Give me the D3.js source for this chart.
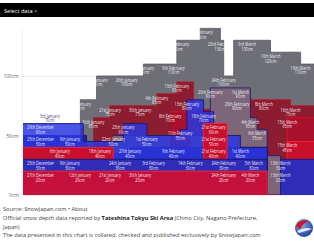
<!DOCTYPE html>
<html><head><meta charset="utf-8">
<script src="https://cdn.jsdelivr.net/npm/d3@7"></script>
<style>
html,body{margin:0;padding:0;background:#fff;}
svg{display:block;font-family:"Open Sans",sans-serif;}
</style></head><body>
<svg id="c" width="314" height="245"></svg>
<script>
// ---- data (each season: [date, snow depth cm, label shown?]); null depth = no report ----
const yTicks = [0, 50, 100];
const seasonGray = [["2001-01-03",70],["2001-01-04",null,0],["2001-01-12",80],["2001-01-17",100],["2001-01-26",100],["2001-01-31",110],["2001-02-09",110],["2001-02-10",130],["2001-02-17",140],["2001-02-23",130],["2001-02-24",100],["2001-02-27",130,0],["2001-03-03",130],["2001-03-10",120],["2001-03-19",110]];
const seasonMaroon = [["2001-01-16",65],["2001-01-21",75],["2001-01-30",75],["2001-02-04",85],["2001-02-10",95],["2001-02-15",72,0],["2001-02-28",80],["2001-03-08",80],["2001-03-16",75]];
const seasonMauve = [["2001-01-22",50],["2001-02-20",90],["2001-03-01",90],["2001-03-04",65],["2001-03-06",55],["2001-03-09",33,0],["2001-03-13",20]];
const seasonRed2 = [["2001-02-08",70],["2001-02-14",0,0],["2001-03-15",65]];
const seasonNavy = [["2000-12-25",50],["2001-01-09",50],["2001-01-14",35,0],["2001-01-27",40],["2001-02-09",40],["2001-02-21",40],["2001-03-09",0,0]];
const seasonBlue = [["2000-12-26",60,0],["2000-12-29",60],["2001-01-13",45,0],["2001-01-25",60],["2001-02-01",50],["2001-02-11",55],["2001-02-13",80],["2001-02-18",70],["2001-02-21",50],["2001-03-01",40],["2001-03-09",0,0]];
const seasonCrimson = [["2000-12-26",40,0],["2001-01-06",40],["2001-01-18",40],["2001-01-22",25,0],["2001-02-18",60,0],["2001-02-21",60],["2001-02-25",0,0],["2001-03-15",45]];
const seasonBlue30 = [["2000-12-25",30],["2001-01-09",30],["2001-01-24",30],["2001-02-03",30],["2001-02-14",30],["2001-02-24",30],["2001-03-05",30],["2001-03-09",0,0],["2001-03-13",30]];
const seasonRed20 = [["2000-12-26",20,0],["2000-12-27",20],["2001-01-12",20],["2001-01-21",20],["2001-01-30",20],["2001-02-24",20],["2001-03-04",20],["2001-03-09",0,0]];

// ---- styles ----
const seasons = [
  {data: seasonGray,    fill:"#6e6e77", stroke:"#5d5d66", op:1},
  {data: seasonMaroon,  fill:"#8c1c30", stroke:"#c0142c", op:1},
  {data: seasonMauve,   fill:"#7d667a", stroke:"#1f1f7a", op:1},
  {data: seasonRed2,    fill:"#a8102c", stroke:"#e0102a", op:1},
  {data: seasonNavy,    fill:"#27208e", stroke:"#15155e", op:1},
  {data: seasonBlue,    fill:"#2a36e0", stroke:"#18187a", op:0.85},
  {data: seasonCrimson, fill:"#c8102e", stroke:"#ff1f2f", op:1},
  {data: seasonBlue30,  fill:"#2f2cb8", stroke:"#16166a", op:1},
  {data: seasonRed20,   fill:"#c4103a", stroke:"#ff2a2a", op:1}
];

const svg = d3.select("#c");
const W = 314, L = 23, T = 28.4, B = 195;
const parse = d3.timeParse("%Y-%m-%d");
const x = d3.scaleTime().domain([new Date(2000,11,26), new Date(2001,2,23)]).range([L, W]);
const y = d3.scaleLinear().domain([0,140]).range([B, T]);
const fmtMonth = d3.timeFormat("%B");
function ordinal(n){const s=["th","st","nd","rd"],v=n%100;return n+(s[(v-20)%10]||s[v]||s[0]);}

// header
svg.append("rect").attr("x",0).attr("y",3).attr("width",W).attr("height",14).attr("fill","#000");
svg.append("text").attr("x",4).attr("y",12.5).attr("fill","#fff").attr("font-size",5.6).text("Select data >");

// grid + y axis
const ax = svg.append("g").attr("transform",`translate(${L-1},0)`)
  .call(d3.axisLeft(y).tickValues(yTicks).tickFormat(d=>d+"cm").tickSize(-(W-L+1)).tickPadding(3));
ax.select(".domain").remove();
ax.selectAll("line").attr("stroke","#e6e6e6").attr("stroke-width",0.8);
ax.selectAll("text").attr("fill","#666").attr("font-size",5).attr("font-family","'Open Sans',sans-serif");
svg.append("line").attr("x1",L-1).attr("x2",L-1).attr("y1",T).attr("y2",B).attr("stroke","#ececec").attr("stroke-width",0.8);

svg.append("defs").append("clipPath").attr("id","clip").append("rect")
  .attr("x",L).attr("y",T-2).attr("width",W-L).attr("height",B-T+2);

const area = d3.area().curve(d3.curveStepAfter).defined(d=>d.v!==null).x(d=>x(d.date)).y0(y(0)).y1(d=>y(d.v));
const line = d3.line().curve(d3.curveStepAfter).defined(d=>d.v!==null).x(d=>x(d.date)).y(d=>y(d.v));
const plot = svg.append("g").attr("clip-path","url(#clip)");
const endDate = new Date(2001,2,26);

const allPts = [];
seasons.forEach(s=>{
  const pts = s.data.map(d=>({date:parse(d[0]), v:d[1], show:d[2]!==0}));
  const last = pts[pts.length-1];
  const ext = last.v>0 ? pts.concat([{date:endDate, v:last.v}]) : pts;
  plot.append("path").datum(ext).attr("d",area).attr("fill",s.fill).attr("fill-opacity",s.op);
  plot.append("path").datum(ext).attr("d",line).attr("fill","none").attr("stroke",s.stroke).attr("stroke-width",0.9);
  pts.forEach((p,i)=>{
    if(p.show && p.v>0){
      const nxt = pts[i+1];
      p.isolated = !!(nxt && nxt.v===null);
      allPts.push(p);
    }
  });
});

// data labels
const lab = svg.append("g");
allPts.forEach(p=>{
  const g = lab.append("g");
  const t = g.append("text").attr("text-anchor","middle").attr("font-size",4.7)
    .attr("fill", p.isolated ? "#23236a" : "#fff").attr("fill-opacity",0.93);
  t.append("tspan").attr("x",0).attr("y",5.9).text(ordinal(p.date.getDate())+" "+fmtMonth(p.date));
  t.append("tspan").attr("x",0).attr("y",10.4).text(p.v+"cm");
  const sx = 0.8;
  const w = t.node().getBBox().width*sx;
  let cx = x(p.date);
  cx = Math.max(L+w/2+4, Math.min(W-w/2-2, cx));
  g.attr("transform",`translate(${cx},${y(p.v)}) scale(${sx},1)`);
});

// footer
const ft = svg.append("g").attr("font-size",5.7).attr("fill","#444");
ft.append("text").attr("x",3).attr("y",211).text("Source: SnowJapan.com • About");
const l2 = ft.append("text").attr("x",3).attr("y",220);
l2.append("tspan").text("Official snow depth data reported by ");
l2.append("tspan").attr("font-weight","bold").attr("fill","#222").text("Tateshina Tokyu Ski Area");
l2.append("tspan").text(" (Chino City, Nagano Prefecture,");
ft.append("text").attr("x",3).attr("y",228.5).text("Japan)");
ft.append("text").attr("x",3).attr("y",237).text("The data presented in this chart is collated, checked and published exclusively by SnowJapan.com");

// logo
const defs = svg.select("defs");
const rg = defs.append("radialGradient").attr("id","lg").attr("cx","40%").attr("cy","35%").attr("r","70%");
rg.append("stop").attr("offset","0%").attr("stop-color","#7fa8e8");
rg.append("stop").attr("offset","100%").attr("stop-color","#1a3c9a");
svg.append("circle").attr("cx",304).attr("cy",228).attr("r",9).attr("fill","url(#lg)");
svg.append("path").attr("d","M296,226 Q300,219 309,221 Q303,223 300,229 Z").attr("fill","#e01020");
svg.append("path").attr("d","M297,231 Q305,226 312,229 Q306,231 299,233 Z").attr("fill","#fff").attr("fill-opacity",0.85);
</script>
</body></html>
